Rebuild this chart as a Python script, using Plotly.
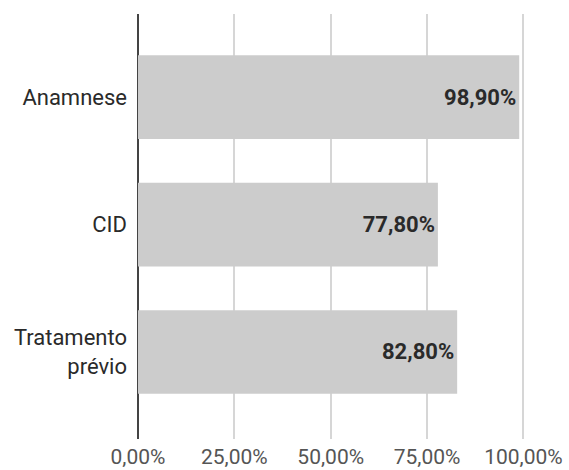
import plotly.graph_objects as go

categories = ["Anamnese", "CID", "Tratamento<br>prévio"]
values = [98.9, 77.8, 82.8]
tick_vals = [0, 25, 50, 75, 100]
tick_text = ["0,00%", "25,00%", "50,00%", "75,00%", "100,00%"]

fig = go.Figure(
    go.Bar(
        x=values,
        y=categories,
        orientation="h",
        marker=dict(color="#cccccc", line=dict(width=0)),
        width=0.657,
        texttemplate="%{x:.2f}%",
        textposition="inside",
        insidetextanchor="end",
        textfont=dict(family="Roboto", size=22, color="#2a2a2a", weight="bold"),
        cliponaxis=False,
        hoverinfo="skip",
    )
)

fig.update_layout(
    width=569,
    height=470,
    margin=dict(l=138, r=44, t=14, b=31, pad=0),
    paper_bgcolor="white",
    plot_bgcolor="white",
    separators=",.",
    showlegend=False,
    font=dict(family="Roboto", size=22, color="#2a2a2a"),
)

fig.update_xaxes(
    range=[0, 100.4],
    tickvals=tick_vals,
    ticktext=tick_text,
    showgrid=True,
    gridcolor="#d6d6d6",
    gridwidth=1.5,
    zeroline=True,
    zerolinecolor="#444444",
    zerolinewidth=2,
    showline=False,
    ticks="",
    tickfont=dict(family="Roboto", size=21, color="#555555"),
    ticklabelstandoff=3,
    automargin=False,
)

fig.update_yaxes(
    type="category",
    range=[2.683, -0.653],
    showgrid=False,
    zeroline=False,
    showline=False,
    ticks="",
    tickfont=dict(family="Roboto", size=22, color="#2a2a2a"),
    ticklabelstandoff=10,
    automargin=False,
)

fig.write_html("out.html")
